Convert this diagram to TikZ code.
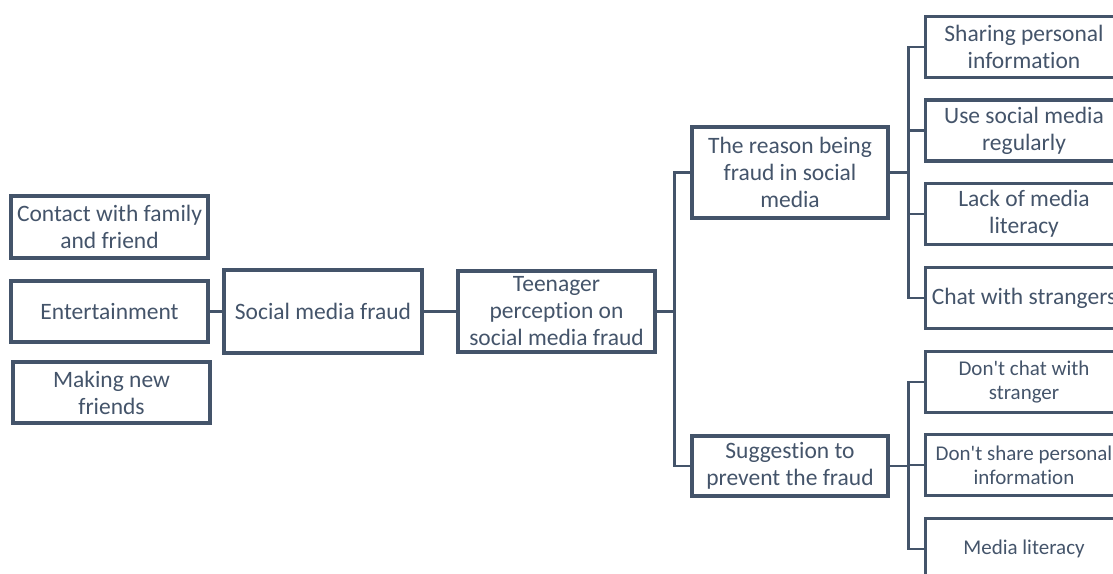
\documentclass[tikz,border=0pt]{standalone}
\usepackage{fontspec}
\setmainfont{Carlito}[Ligatures=NoCommon]
\definecolor{slate}{HTML}{44546A}

\tikzset{
  box/.style={draw=slate, line width=3.3pt, text=slate, align=center, inner sep=0pt,
    font=\fontsize{23.5}{27}\selectfont, minimum width=197pt, minimum height=61pt},
  smallbox/.style={box, font=\fontsize{21}{24}\selectfont},
  link/.style={draw=slate, line width=2.4pt}
}

\begin{document}
\begin{tikzpicture}[x=1pt, y=-1pt]
        \useasboundingbox (0,0) rectangle (1113,573);
        \clip (0,0) rectangle (1113,573);
        % left column
        \node[box, minimum height=62pt] (contact) at (109.5, 227) {Contact with family\\and friend};
        \node[box] (ent) at (109.5, 311.5) {Entertainment};
        \node[box] (newfr) at (111.5, 392.5) {Making new\\friends};
        % middle
        \node[box, minimum width=198pt, minimum height=83pt] (smf) at (323, 311.5) {Social media fraud};
        \node[box, minimum height=81pt] (teen) at (556.5, 311.5) {Teenager\\perception on\\social media fraud};
        \node[box, minimum width=196pt, minimum height=91pt] (reason) at (790, 172.5) {The reason being\\fraud in social\\media};
        \node[box, minimum width=196pt, minimum height=60pt] (sugg) at (790, 466) {Suggestion to\\prevent the fraud};
        % right column
        \node[box] (share) at (1024, 47) {Sharing personal\\information};
        \node[box] (usesm) at (1024, 130.5) {Use social media\\regularly};
        \node[box] (lack) at (1024, 214) {Lack of media\\literacy};
        \node[box] (chat) at (1024, 298) {Chat with strangers};
        \node[smallbox] (nochat) at (1024, 382) {Don\textquotesingle t chat with\\stranger};
        \node[smallbox] (noshare) at (1024, 465) {Don\textquotesingle t share personal\\information};
        \node[smallbox] (medlit) at (1024, 549) {Media literacy};
        % connectors
        \draw[link] (ent) -- (smf);
        \draw[link] (smf) -- (teen);
        \draw[link] (teen.east) -- ++(18,0) |- (reason.west);
        \draw[link] (teen.east) -- ++(18,0) |- (sugg.west);
        \foreach \n in {share, usesm, lack, chat}
          \draw[link] (reason.east) -- ++(19,0) |- (\n.west);
        \foreach \n in {nochat, noshare, medlit}
          \draw[link] (sugg.east) -- ++(19,0) |- (\n.west);
    \end{tikzpicture}
\end{document}
